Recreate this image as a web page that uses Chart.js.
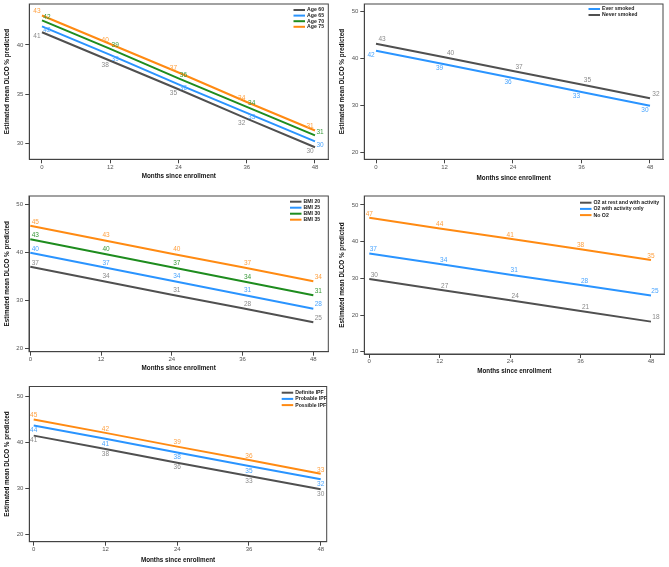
<!DOCTYPE html>
<html>
<head>
<meta charset="utf-8">
<script src="https://cdn.jsdelivr.net/npm/chart.js@4/dist/chart.umd.min.js"></script>
<style>
  body { margin: 0; background: #fff; }
  canvas { position: absolute; }
</style>
</head>
<body>
<canvas id="c1" width="335" height="190" style="left:0;top:0"></canvas>
<canvas id="c2" width="334" height="190" style="left:335px;top:0"></canvas>
<canvas id="c3" width="335" height="190" style="left:0;top:190px"></canvas>
<canvas id="c4" width="334" height="190" style="left:335px;top:190px"></canvas>
<canvas id="c5" width="335" height="187" style="left:0;top:380px"></canvas>
<script>
// time points (months since enrollment)
const months = [0, 12, 24, 36, 48];

// age
const ageNames = ['Age 60', 'Age 65', 'Age 70', 'Age 75'];
const age60 = [41.3, 38.4, 35.5, 32.5, 29.6];
const age65 = [41.9, 39.0, 36.0, 33.1, 30.2];
const age70 = [42.5, 39.6, 36.6, 33.7, 30.8];
const age75 = [43.0, 40.1, 37.2, 34.2, 31.3];
const age60Text = ['41', '38', '35', '32', '30'];
const age65Text = ['42', '39', '36', '33', '30'];
const age70Text = ['42', '39', '36', '34', '31'];
const age75Text = ['43', '40', '37', '34', '31'];

// smoking
const smokeNames = ['Ever smoked', 'Never smoked'];
const everSmoked = [41.7, 38.8, 35.9, 32.9, 30.0];
const neverSmoked = [43.2, 40.3, 37.4, 34.5, 31.6];
const everSmokedText = ['42', '39', '36', '33', '30'];
const neverSmokedText = ['43', '40', '37', '35', '32'];

// BMI
const bmiNames = ['BMI 20', 'BMI 25', 'BMI 30', 'BMI 35'];
const bmi20 = [37.0, 34.1, 31.2, 28.4, 25.5];
const bmi25 = [39.9, 37.0, 34.1, 31.2, 28.3];
const bmi30 = [42.7, 39.8, 36.9, 34.0, 31.1];
const bmi35 = [45.5, 42.6, 39.7, 36.9, 34.0];
const bmi20Text = ['37', '34', '31', '28', '25'];
const bmi25Text = ['40', '37', '34', '31', '28'];
const bmi30Text = ['43', '40', '37', '34', '31'];
const bmi35Text = ['45', '43', '40', '37', '34'];

// oxygen use
const o2Names = ['O2 at rest and with activity', 'O2 with activity only', 'No O2'];
const o2Rest = [29.8, 26.9, 24.0, 21.1, 18.2];
const o2Activity = [36.8, 33.9, 31.0, 28.2, 25.3];
const noO2 = [46.5, 43.6, 40.8, 37.9, 35.0];
const o2RestText = ['30', '27', '24', '21', '18'];
const o2ActivityText = ['37', '34', '31', '28', '25'];
const noO2Text = ['47', '44', '41', '38', '35'];

// IPF diagnosis
const ipfNames = ['Definite IPF', 'Probable IPF', 'Possible IPF'];
const ipfDefinite = [41.5, 38.6, 35.6, 32.7, 29.8];
const ipfProbable = [43.7, 40.8, 37.8, 34.9, 32.0];
const ipfPossible = [45.0, 42.1, 39.1, 36.2, 33.2];
const ipfDefiniteText = ['41', '38', '36', '33', '30'];
const ipfProbableText = ['44', '41', '38', '35', '32'];
const ipfPossibleText = ['45', '42', '39', '36', '33'];

const lineColors = { gray: '#505050', blue: '#2a94ff', green: '#1e8c1e', orange: '#ff8a12' };
const textColors = { gray: '#8a8a8a', blue: '#4aa5ff', green: '#3a9a3a', orange: '#ffa040' };

Chart.defaults.font.family = '"Liberation Sans", Arial, sans-serif';

const panels = [
  {
    id: 'c1', names: ageNames, series: [age60, age65, age70, age75],
    texts: [age60Text, age65Text, age70Text, age75Text],
    colors: ['gray', 'blue', 'green', 'orange'],
    offsets: [[-5, 4], [5, 4], [5, -3.5], [-5, -4]],
    frame: { l: 29.3, t: 4, r: 328.3, b: 159.3 },
    x: [-2.23, 50.34], y: [28.37, 44.17], yTicks: [30, 35, 40],
    legend: { x: 293.5, y: 10, gap: 5.6 }, titlePad: 9.5
  },
  {
    id: 'c2', names: smokeNames, series: [everSmoked, neverSmoked],
    texts: [everSmokedText, neverSmokedText],
    colors: ['blue', 'gray'],
    offsets: [[-5, 4], [6, -4]],
    frame: { l: 29.3, t: 4, r: 328, b: 159.3 },
    x: [-2.05, 50.28], y: [18.6, 51.64], yTicks: [20, 30, 40, 50],
    legend: { x: 253.5, y: 9, gap: 6 }, titlePad: 7.9
  },
  {
    id: 'c3', names: bmiNames, series: [bmi20, bmi25, bmi30, bmi35],
    texts: [bmi20Text, bmi25Text, bmi30Text, bmi35Text],
    colors: ['gray', 'blue', 'green', 'orange'],
    offsets: [[5, -4], [5, -4], [5, -4], [5, -4]],
    frame: { l: 29, t: 6, r: 328.3, b: 161.7 },
    x: [-0.22, 50.54], y: [19.38, 51.66], yTicks: [20, 30, 40, 50],
    legend: { x: 290, y: 11.7, gap: 6 }, titlePad: 7.9
  },
  {
    id: 'c4', names: o2Names, series: [o2Rest, o2Activity, noO2],
    texts: [o2RestText, o2ActivityText, noO2Text],
    colors: ['gray', 'blue', 'orange'],
    offsets: [[5, -4], [4, -4], [0, -4]],
    frame: { l: 29.3, t: 6, r: 329.3, b: 164 },
    x: [-0.85, 50.27], y: [9.37, 52.45], yTicks: [10, 20, 30, 40, 50],
    legend: { x: 245, y: 12.7, gap: 6.2 }, titlePad: 4.5
  },
  {
    id: 'c5', names: ipfNames, series: [ipfDefinite, ipfProbable, ipfPossible],
    texts: [ipfDefiniteText, ipfProbableText, ipfPossibleText],
    colors: ['gray', 'blue', 'orange'],
    offsets: [[0, 5], [0, 5], [0, -4]],
    frame: { l: 29.3, t: 6.5, r: 326.7, b: 161.7 },
    x: [-0.74, 49.0], y: [18.39, 52.2], yTicks: [20, 30, 40, 50],
    legend: { x: 281.7, y: 12.7, gap: 6.2 }, titlePad: 3.2
  }
];

// frame, point labels and legend drawn on top of the lines
const decorations = {
  id: 'decorations',
  afterDatasetsDraw(chart, args, opts) {
    const p = opts.panel;
    const ctx = chart.ctx;
    const a = chart.chartArea;
    ctx.save();
    ctx.strokeStyle = '#444';
    ctx.lineWidth = 1;
    ctx.strokeRect(a.left, a.top, a.right - a.left, a.bottom - a.top);

    ctx.font = '6.5px "Liberation Sans", Arial, sans-serif';
    ctx.textAlign = 'center';
    ctx.textBaseline = 'middle';
    chart.data.datasets.forEach((ds, i) => {
      const meta = chart.getDatasetMeta(i);
      ctx.fillStyle = textColors[p.colors[i]];
      meta.data.forEach((pt, j) => {
        ctx.fillText(p.texts[i][j], pt.x + p.offsets[i][0], pt.y + p.offsets[i][1]);
      });
    });

    ctx.font = 'bold 5.2px "Liberation Sans", Arial, sans-serif';
    ctx.textAlign = 'left';
    chart.data.datasets.forEach((ds, i) => {
      const y = p.legend.y + i * p.legend.gap;
      ctx.strokeStyle = ds.borderColor;
      ctx.lineWidth = 2;
      ctx.beginPath();
      ctx.moveTo(p.legend.x, y);
      ctx.lineTo(p.legend.x + 11.5, y);
      ctx.stroke();
      ctx.fillStyle = '#222';
      ctx.fillText(ds.label, p.legend.x + 13.5, y);
    });
    ctx.restore();
  }
};

panels.forEach(p => {
  const canvas = document.getElementById(p.id);
  const W = canvas.width, H = canvas.height;
  new Chart(canvas, {
    type: 'line',
    data: {
      datasets: p.series.map((vals, i) => ({
        label: p.names[i],
        data: months.map((m, j) => ({ x: m, y: vals[j] })),
        borderColor: lineColors[p.colors[i]],
        borderWidth: 2,
        pointRadius: 0,
        tension: 0
      }))
    },
    options: {
      responsive: false,
      animation: false,
      devicePixelRatio: 1,
      layout: { padding: { left: 0, top: p.frame.t, right: W - p.frame.r, bottom: 0 } },
      plugins: {
        legend: { display: false },
        tooltip: { enabled: false },
        decorations: { panel: p }
      },
      scales: {
        x: {
          type: 'linear',
          min: p.x[0], max: p.x[1],
          afterBuildTicks: s => { s.ticks = months.map(v => ({ value: v })); },
          afterFit: s => {
            s.height = H - p.frame.b;
            s.paddingLeft = 0; s.paddingRight = 0;
          },
          grid: { drawOnChartArea: false, drawTicks: true, tickLength: 4, color: '#444' },
          border: { display: true, color: '#444' },
          ticks: { padding: 0, maxRotation: 0, autoSkip: false, color: '#555', font: { size: 6 } },
          title: {
            display: true, text: 'Months since enrollment', color: '#111',
            font: { size: 6.3, weight: 'bold' }, padding: { top: 0, bottom: p.titlePad }
          }
        },
        y: {
          type: 'linear',
          min: p.y[0], max: p.y[1],
          afterBuildTicks: s => { s.ticks = p.yTicks.map(v => ({ value: v })); },
          afterFit: s => {
            s.width = p.frame.l;
            s.paddingTop = 0; s.paddingBottom = 0;
          },
          grid: { drawOnChartArea: false, drawTicks: true, tickLength: 4, color: '#444' },
          border: { display: true, color: '#444' },
          ticks: { padding: 2, color: '#555', font: { size: 6 } },
          title: {
            display: true, text: 'Estimated mean DLCO % predicted', color: '#111',
            font: { size: 6.3, weight: 'bold' }, padding: { top: 3.5, bottom: 0 }
          }
        }
      }
    },
    plugins: [decorations]
  });
});
</script>
</body>
</html>
